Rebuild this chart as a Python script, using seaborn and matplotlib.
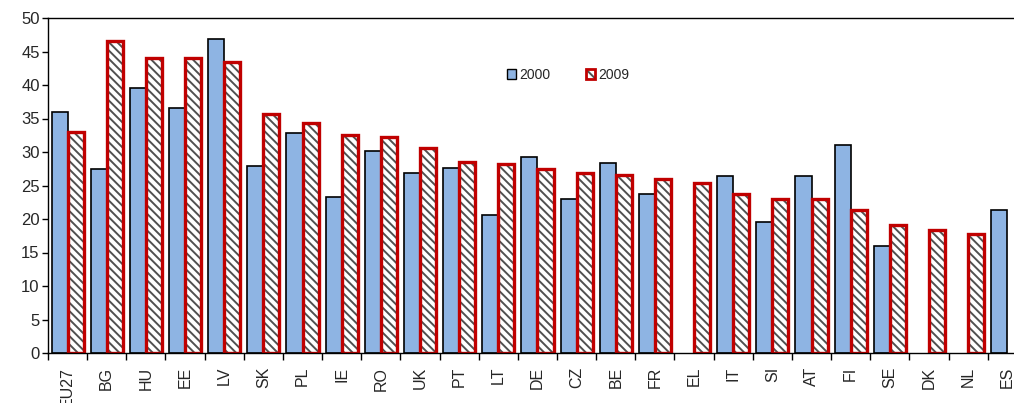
import numpy as np
import pandas as pd
import matplotlib
matplotlib.use("Agg")
import matplotlib.pyplot as plt
from matplotlib.colors import to_rgba
from matplotlib.patches import Patch
import seaborn as sns

countries = ["EU27", "BG", "HU", "EE", "LV", "SK", "PL", "IE", "RO", "UK", "PT", "LT",
             "DE", "CZ", "BE", "FR", "EL", "IT", "SI", "AT", "FI", "SE", "DK", "NL", "ES"]
v2000 = [35.9, 27.4, 39.5, 36.6, 46.9, 27.9, 32.8, 23.3, 30.2, 26.9, 27.6, 20.6,
         29.3, 23.0, 28.3, 23.8, np.nan, 26.4, 19.5, 26.4, 31.1, 15.9, np.nan, np.nan, 21.4]
v2009 = [33.0, 46.5, 44.1, 44.1, 43.4, 35.6, 34.4, 32.5, 32.3, 30.6, 28.5, 28.2,
         27.5, 26.8, 26.6, 26.0, 25.4, 23.8, 23.0, 23.0, 21.3, 19.1, 18.3, 17.7, np.nan]
years = ["2000", "2009"]
yticks = list(range(0, 51, 5))

df = pd.DataFrame({
    "country": countries * 2,
    "year": [years[0]] * len(countries) + [years[1]] * len(countries),
    "value": v2000 + v2009,
})

sns.set_style("white")
plt.rcParams["font.family"] = ["Liberation Sans", "DejaVu Sans"]
plt.rcParams["hatch.linewidth"] = 1.4

BLUE = "#8EB4E3"
RED = "#C00000"
HATCH = "#505050"

fig = plt.figure(figsize=(10.14, 4.03), dpi=100)
W, H = 1014, 403
left, right, top, bottom = 48, 1026.9, 18, 353
ax = fig.add_axes([left / W, (H - bottom) / H, (right - left) / W, (bottom - top) / H])

sns.barplot(data=df, x="country", y="value", hue="year", order=countries,
            hue_order=years, palette=[BLUE, "white"], width=0.82, saturation=1,
            errorbar=None, ax=ax, legend=False)

c2000, c2009 = ax.containers[0], ax.containers[1]
for p in c2000.patches:
    p.set_edgecolor("black")
    p.set_linewidth(1.2)
for p in c2009.patches:
    p.set_facecolor("white")
    p.set_hatch("\\\\\\\\")
    p.set_edgecolor(RED)
    p._hatch_color = to_rgba(HATCH)
    p.set_linewidth(2.4)

n = len(countries)
ax.set_xlim(-0.5, n - 0.5)
ax.set_ylim(0, 50)
ax.set_yticks(yticks)
ax.set_xlabel("")
ax.set_ylabel("")

ax.set_xticks(np.arange(n))
ax.set_xticklabels(countries, rotation=90, fontsize=11.5)
ax.set_xticks(np.arange(n + 1) - 0.5, minor=True)
ax.tick_params(axis="x", which="major", length=0, pad=10)
ax.tick_params(axis="x", which="minor", length=5, width=1, direction="out", color="black")
ax.tick_params(axis="y", length=4, width=1, direction="out", color="black",
               labelsize=12, pad=2)
ax.yaxis.set_ticks_position("left")
ax.xaxis.set_ticks_position("bottom")
for s in ax.spines.values():
    s.set_color("black")
    s.set_linewidth(1.0)

h1 = Patch(facecolor=BLUE, edgecolor="black", linewidth=1.0)
h2 = Patch(facecolor="white", edgecolor=RED, linewidth=2.0, hatch="\\\\\\\\")
h2._hatch_color = to_rgba(HATCH)
leg = ax.legend([h1, h2], years, loc="center left", bbox_to_anchor=(0.4635, 0.83),
                ncol=2, frameon=False, fontsize=10, handlelength=0.65, handleheight=0.65,
                handletextpad=0.2, columnspacing=2.6, borderaxespad=0)

fig.savefig("out.png", dpi=100)
